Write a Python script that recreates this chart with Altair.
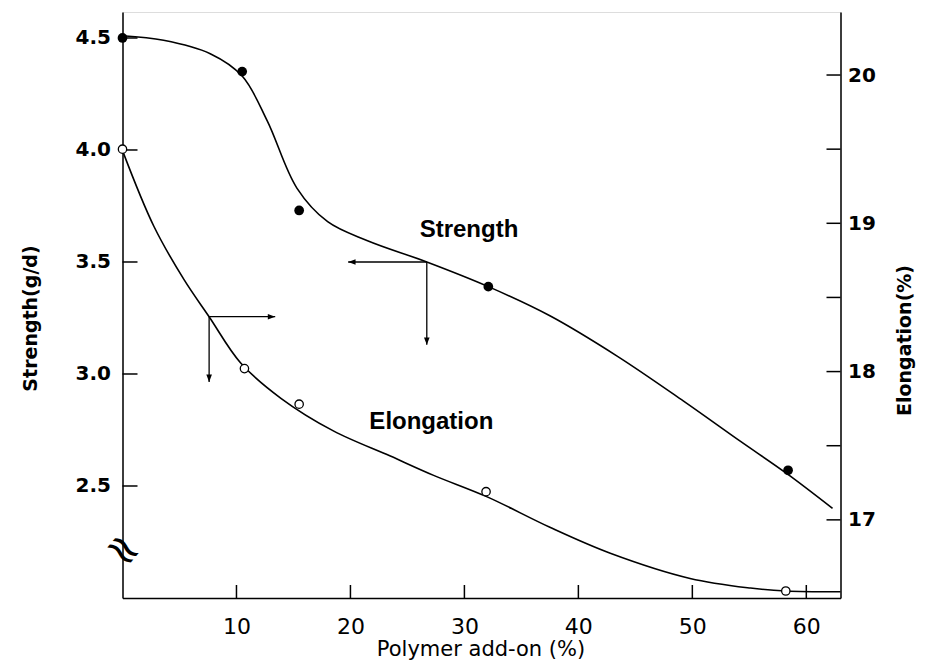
import altair as alt
import pandas as pd

# ---- measured data points ----
x_strength = [0.0, 10.5, 15.5, 32.1, 58.4]
strength = [4.50, 4.35, 3.73, 3.39, 2.57]
x_elong = [0.0, 10.7, 15.5, 31.9, 58.2]
elong = [19.50, 18.02, 17.78, 17.19, 16.52]

# ---- hand-drawn fitted curves (traced) ----
sc_x = [0, 3.6, 7.7, 10.5, 12.7, 15.3, 18.0, 21.5, 26.7, 32.1, 37.5, 43.4, 49.2, 54.2, 58.3, 62.3]
sc_y = [4.51, 4.49, 4.43, 4.33, 4.13, 3.83, 3.68, 3.595, 3.50, 3.39, 3.26, 3.08, 2.88, 2.70, 2.555, 2.40]
ec_x = [0, 2.75, 5.4, 7.6, 10.35, 13.9, 18.5, 23.5, 27.3, 32.0, 37.5, 42.8, 49.8, 55.1, 58.2, 63.0]
ec_y = [19.49, 18.98, 18.62, 18.37, 18.06, 17.82, 17.60, 17.43, 17.30, 17.155, 16.95, 16.775, 16.605, 16.54, 16.52, 16.515]

# ---- reading arrows ----
s_arrow_x, s_arrow_y, s_arrow_xend, s_arrow_yend = 26.7, 3.50, 19.8, 3.13
e_arrow_x, e_arrow_y, e_arrow_xend, e_arrow_yend = 7.6, 18.37, 13.4, 17.93

# ---- axis ticks ----
x_ticks = [10, 20, 30, 40, 50, 60]
s_ticks = [2.5, 3.0, 3.5, 4.0, 4.5]
e_label_ticks = [17, 18, 19, 20]
e_ticks = [17, 17.5, 18, 18.5, 19, 19.5, 20]

# ---- annotations ----
labels_s = pd.DataFrame({"x": [30.4], "s": [3.612], "t": ["Strength"]})
labels_e = pd.DataFrame({"x": [27.1], "e": [17.611], "t": ["Elongation"]})
break_df = pd.DataFrame({"x": [0.0], "s": [2.21], "t": ["≈"]})

W, H = 718, 586
FONT = "Liberation Sans"
WIDE = "DejaVu Sans"

xs = alt.Scale(domain=[0, 63], nice=False, zero=False)
ss = alt.Scale(domain=[2.0, 4.616], nice=False, zero=False)
es = alt.Scale(domain=[16.473, 20.425], nice=False, zero=False)

x_axis = alt.Axis(values=x_ticks, format="d", tickSize=0, labelPadding=18, labelFontSize=22,
                  labelFont=WIDE, labelColor="black", domainColor="black", domainWidth=1.5,
                  grid=False, title="Polymer add-on (%)", titleFont=WIDE, titleFontSize=21,
                  titleFontWeight="normal", titleColor="black", titleX=358, titleY=57,
                  titleBaseline="alphabetic", titleAlign="center", labelFlush=False)
s_axis = alt.Axis(values=s_ticks, format=".1f", tickSize=0, labelPadding=12, labelFontSize=20,
                  labelFontWeight="bold", labelFont=WIDE, labelColor="black", domainColor="black",
                  domainWidth=1.5, grid=False, title="Strength(g/d)", titleFont=WIDE,
                  titleFontSize=19, titleFontWeight="bold", titleColor="black", titleX=-92,
                  titleY=306, titleAngle=270, titleAlign="center", titleBaseline="middle",
                  labelFlush=False, orient="left")
e_axis = alt.Axis(values=e_label_ticks, format="d", tickSize=0, labelPadding=7, labelFontSize=20,
                  labelFontWeight="bold", labelFont=WIDE, labelColor="black", domainColor="black",
                  domainWidth=1.5, grid=False, title="Elongation(%)", titleFont=WIDE,
                  titleFontSize=19, titleFontWeight="bold", titleColor="black", titleX=64,
                  titleY=328, titleAngle=270, titleAlign="center", titleBaseline="middle",
                  labelFlush=False, orient="right")

X = lambda f="x": alt.X(f"{f}:Q", scale=xs, axis=x_axis)
YS = lambda f="s": alt.Y(f"{f}:Q", scale=ss, axis=s_axis)
YE = lambda f="e": alt.Y(f"{f}:Q", scale=es, axis=e_axis)

df_sc = pd.DataFrame({"x": sc_x, "s": sc_y})
df_ec = pd.DataFrame({"x": ec_x, "e": ec_y})
df_sp = pd.DataFrame({"x": x_strength, "s": strength})
df_ep = pd.DataFrame({"x": x_elong, "e": elong})

curve_s = alt.Chart(df_sc).mark_line(color="black", strokeWidth=1.6, interpolate="catmull-rom").encode(x=X(), y=YS())
curve_e = alt.Chart(df_ec).mark_line(color="black", strokeWidth=1.6, interpolate="catmull-rom").encode(x=X(), y=YE())
pts_s = alt.Chart(df_sp).mark_point(shape="circle", filled=True, size=95, color="black", opacity=1).encode(x=X(), y=YS())
pts_e = alt.Chart(df_ep).mark_point(shape="circle", filled=True, fill="white", stroke="black",
                                    strokeWidth=1.3, size=70, opacity=1).encode(x=X(), y=YE())

# arrows
sa = pd.DataFrame({"x": [s_arrow_x], "x2": [s_arrow_xend], "s": [s_arrow_y], "s2": [s_arrow_yend]})
ea = pd.DataFrame({"x": [e_arrow_x], "x2": [e_arrow_xend], "e": [e_arrow_y], "e2": [e_arrow_yend]})
LEFT = "M0,0 L1,-0.38 L1,0.38 Z"
RIGHT = "M0,0 L-1,-0.38 L-1,0.38 Z"
DOWN = "M0,0 L-0.38,-1 L0.38,-1 Z"

sa_h = alt.Chart(sa).mark_rule(color="black", strokeWidth=1.3).encode(x=X(), x2="x2:Q", y=YS())
sa_v = alt.Chart(sa).mark_rule(color="black", strokeWidth=1.3).encode(x=X(), y=YS(), y2="s2:Q")
sa_hh = alt.Chart(sa).mark_point(shape=LEFT, filled=True, color="black", size=220, opacity=1).encode(x=X("x2"), y=YS())
sa_vh = alt.Chart(sa).mark_point(shape=DOWN, filled=True, color="black", size=220, opacity=1).encode(x=X(), y=YS("s2"))

ea_h = alt.Chart(ea).mark_rule(color="black", strokeWidth=1.3).encode(x=X(), x2="x2:Q", y=YE())
ea_v = alt.Chart(ea).mark_rule(color="black", strokeWidth=1.3).encode(x=X(), y=YE(), y2="e2:Q")
ea_hh = alt.Chart(ea).mark_point(shape=RIGHT, filled=True, color="black", size=220, opacity=1).encode(x=X("x2"), y=YE())
ea_vh = alt.Chart(ea).mark_point(shape=DOWN, filled=True, color="black", size=220, opacity=1).encode(x=X(), y=YE("e2"))

# inward ticks
tx = alt.Chart(pd.DataFrame({"x": x_ticks})).mark_rule(color="black", strokeWidth=1.5).encode(
    x=X(), y=alt.value(H), y2=alt.value(H - 13))
ts = alt.Chart(pd.DataFrame({"s": s_ticks})).mark_rule(color="black", strokeWidth=1.5).encode(
    y=YS(), x=alt.value(0), x2=alt.value(15))
te = alt.Chart(pd.DataFrame({"e": e_ticks})).mark_rule(color="black", strokeWidth=1.5).encode(
    y=YE(), x=alt.value(W), x2=alt.value(W - 14))

lab_s = alt.Chart(labels_s).mark_text(font=FONT, fontSize=24, fontWeight="bold", color="black",
                                      baseline="alphabetic", align="center").encode(x=X(), y=YS(), text="t:N")
lab_e = alt.Chart(labels_e).mark_text(font=FONT, fontSize=24, fontWeight="bold", color="black",
                                      baseline="alphabetic", align="center").encode(x=X(), y=YE(), text="t:N")
brk = alt.Chart(break_df).mark_text(font="DejaVu Sans", fontSize=44, color="black", angle=40,
                                    baseline="middle", align="center").encode(x=X(), y=YS(), text="t:N")

s_layer = alt.layer(curve_s, sa_h, sa_v, sa_hh, sa_vh, tx, ts, brk, pts_s, lab_s)
e_layer = alt.layer(curve_e, ea_h, ea_v, ea_hh, ea_vh, te, pts_e, lab_e)

chart = alt.layer(s_layer, e_layer).resolve_scale(y="independent").properties(
    width=W, height=H, autosize="none",
    padding={"left": 114.5, "top": 4, "right": 81.5, "bottom": 63},
).configure_view(stroke=None).configure(background="white")

chart.save("out.html", embed_options={"renderer": "svg", "actions": False})
